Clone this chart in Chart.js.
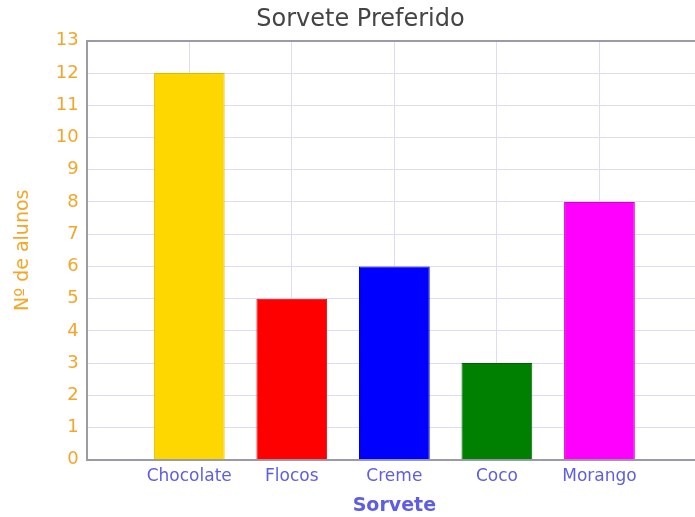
<!DOCTYPE html>
<html>
<head>
<meta charset="utf-8">
<script src="https://cdn.jsdelivr.net/npm/chart.js@4/dist/chart.umd.min.js"></script>
<style>
  html, body { margin: 0; padding: 0; background: #fff; overflow: hidden; }
  #wrap { width: 709px; height: 517px; }
</style>
</head>
<body>
<div id="wrap"><canvas id="sorveteChart"></canvas></div>
<script>
// Chart data
const sabores = ['Chocolate', 'Flocos', 'Creme', 'Coco', 'Morango'];
const alunos = [12, 5, 6, 3, 8];
const coresBarras = ['#ffd700', '#ff0000', '#0000ff', '#008000', '#ff00ff'];
const coresBordas = ['#e0b800', '#d00000', '#0000c0', '#006000', '#d000d0'];
const yTicks = [0, 1, 2, 3, 4, 5, 6, 7, 8, 9, 10, 11, 12, 13];

// empty slot on both sides, like the original plot
const labels = [''].concat(sabores, ['']);
const valores = [null].concat(alunos, [null]);
const fundo = ['#fff'].concat(coresBarras, ['#fff']);
const bordas = ['#fff'].concat(coresBordas, ['#fff']);

const orange = '#f4a62a';
const blue = '#5e5ee4';

const ctx = document.getElementById('sorveteChart');
new Chart(ctx, {
    type: 'bar',
    data: {
        labels: labels,
        datasets: [{
            data: valores,
            backgroundColor: fundo,
            borderColor: bordas,
            borderWidth: 1,
            barPercentage: 0.69,
            categoryPercentage: 1
        }]
    },
    options: {
        responsive: true,
        maintainAspectRatio: false,
        animation: false,
        layout: { padding: { left: 12, top: 0, right: 0, bottom: 0 } },
        scales: {
            x: {
                offset: false,
                grid: { color: '#dcdcf2', drawTicks: false, offset: false },
                border: { color: '#9a9aa8', width: 2 },
                ticks: {
                    color: blue,
                    font: { family: 'DejaVu Sans', size: 17 },
                    padding: 7,
                    maxRotation: 0,
                    autoSkip: false
                },
                title: {
                    display: true,
                    text: 'Sorvete',
                    color: blue,
                    font: { family: 'DejaVu Sans', size: 19, weight: 'bold' },
                    padding: { top: 0, bottom: 0 }
                }
            },
            y: {
                min: yTicks[0],
                max: yTicks[yTicks.length - 1],
                afterBuildTicks: function(scale) {
                    scale.ticks = yTicks.map(v => ({ value: v }));
                },
                grid: {
                    color: function(c) { return c.tick && c.tick.value === 13 ? '#9a9aa8' : '#dcdcf2'; },
                    lineWidth: function(c) { return c.tick && c.tick.value === 13 ? 2 : 1; },
                    drawTicks: false
                },
                border: { color: '#9a9aa8', width: 2 },
                ticks: {
                    color: orange,
                    font: { family: 'DejaVu Sans', size: 18 },
                    padding: 8
                },
                title: {
                    display: true,
                    text: 'Nº de alunos',
                    color: orange,
                    font: { family: 'DejaVu Sans', size: 19 },
                    padding: { top: 0, bottom: 13 }
                }
            }
        },
        plugins: {
            legend: { display: false },
            tooltip: { enabled: false },
            title: {
                display: true,
                text: 'Sorvete Preferido',
                color: '#444',
                font: { family: 'DejaVu Sans', size: 24, weight: 'normal' },
                padding: { top: 5, bottom: 7 }
            }
        }
    }
});
</script>
</body>
</html>
